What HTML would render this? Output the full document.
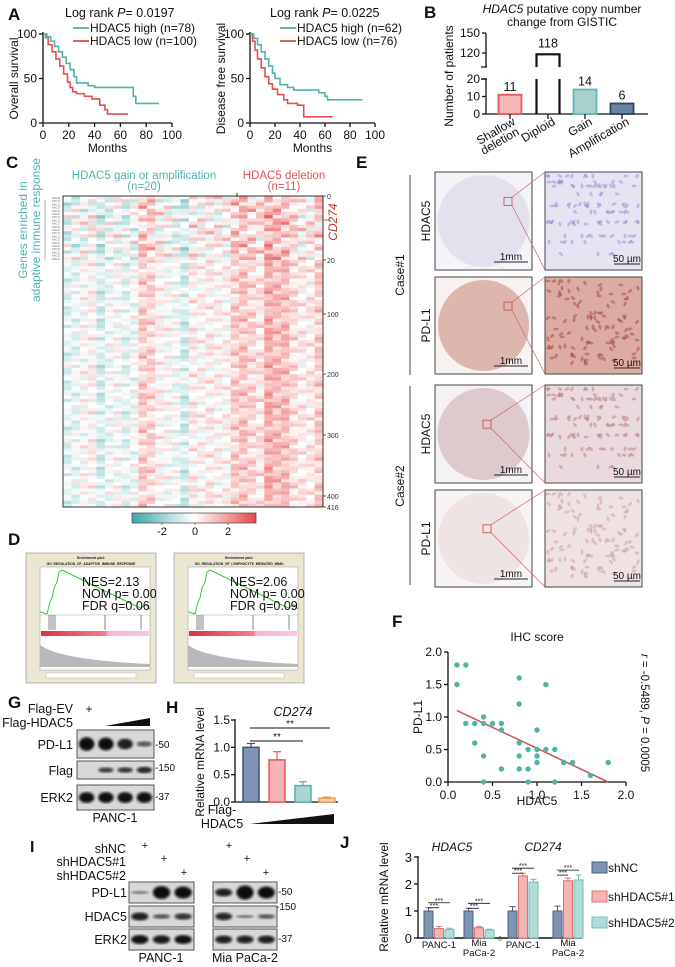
<!DOCTYPE html>
<html><head><meta charset="utf-8"><style>
html,body{margin:0;padding:0;background:#fff}
svg{display:block;font-family:"Liberation Sans",Arial,sans-serif}
</style></head><body>
<svg id="fig" width="675" height="967" viewBox="0 0 675 967" xmlns="http://www.w3.org/2000/svg">
<defs>
<filter id="blur1"><feGaussianBlur stdDeviation="1.2"/></filter>
<linearGradient id="cbar" x1="0" x2="1"><stop offset="0" stop-color="#3aa8a8"/><stop offset="0.5" stop-color="#ffffff"/><stop offset="1" stop-color="#e84848"/></linearGradient>
<linearGradient id="gseabar" x1="0" x2="1"><stop offset="0" stop-color="#e03040"/><stop offset="0.6" stop-color="#f08090"/><stop offset="0.62" stop-color="#f4b8d8"/><stop offset="1" stop-color="#f4c8e0"/></linearGradient>
</defs>
<g id="root"></g>
</svg>
<script>
// ---------- data ----------
const kmOsHigh=[[0,100],[3,97],[6,92],[9,86],[12,80],[15,74],[18,67],[21,60],[24,52],[26,45],[35,42],[40,40],[65,40],[70,30],[72,22],[90,22]];
const kmOsLow=[[0,100],[2,96],[4,88],[7,80],[10,72],[13,64],[16,55],[19,46],[21,40],[23,35],[26,33],[32,30],[38,27],[44,20],[48,15],[50,10],[66,10]];
const kmDfsHigh=[[0,100],[3,95],[6,88],[9,80],[12,72],[15,64],[18,56],[20,50],[24,43],[30,40],[35,37],[55,34],[60,30],[62,26],[90,26]];
const kmDfsLow=[[0,100],[2,92],[4,82],[6,72],[9,62],[12,52],[15,44],[18,38],[22,32],[27,26],[30,22],[38,20],[43,7],[66,7]];
const cnvCats=["Shallow deletion","Diploid","Gain","Amplification"];
const cnvVals=[11,118,14,6];
const heatColMeans=[-0.3,-0.2,0,0.1,-0.5,-0.1,0,-0.3,-0.1,0.6,0.5,0.1,0,-0.1,-0.5,0.2,0.1,0.2,0.1,0.1,0.6,0.7,0.5,0.3,1.0,0.8,0.8,0.4,0.2,0.2,0.6];
const heatRowPattern=[0.4,-0.6,0.1,0.9,-0.3,-1.1,0.6,0.2,-0.8,1.2,-0.1,0.3,-0.5,0.8,-1.3,0.0,0.5,-0.2,1.4,-0.7,0.2,-0.4,0.7,-0.9];
const ihcX=[0.1,0.2,0.1,0.8,1.1,0.8,0.4,0.2,0.3,0.4,0.5,0.6,0.6,1.0,0.3,0.8,0.9,1.0,1.1,1.2,0.4,0.8,1.0,1.0,1.3,1.4,1.8,0.6,0.8,0.9,1.6,0.4,0.9,1.2];
const ihcY=[1.8,1.8,1.5,1.6,1.5,1.2,1.0,0.9,0.9,0.9,0.9,0.9,0.8,0.8,0.6,0.6,0.5,0.5,0.5,0.5,0.4,0.4,0.4,0.3,0.3,0.3,0.3,0.2,0.2,0.2,0.1,0,0,0];
const fitLine=[[0.1,1.1],[1.8,0]];
const hVals=[1.0,0.77,0.3,0.07];
const hErr=[0.07,0.15,0.07,0.02];
const jGroups=["PANC-1","Mia PaCa-2","PANC-1","Mia PaCa-2"];
const jSeries=["shNC","shHDAC5#1","shHDAC5#2"];
const jNC=[1,1,1,1];
const jSh1=[0.35,0.38,2.3,2.12];
const jSh2=[0.32,0.3,2.07,2.15];
const jErrNC=[0.12,0.1,0.16,0.18];
const jErrSh1=[0.08,0.04,0.1,0.1];
const jErrSh2=[0.04,0.03,0.1,0.18];

// ---------- helpers ----------
const NS="http://www.w3.org/2000/svg";
const root=document.getElementById('root');
function el(tag,attrs,parent,text){const e=document.createElementNS(NS,tag);for(const k in attrs)e.setAttribute(k,attrs[k]);if(text!==undefined)e.textContent=text;(parent||root).appendChild(e);return e;}
function grp(name,parent){const g=el('g',{},parent);return g;}
function txt(p,x,y,s,size,o){o=o||{};const t=el('text',Object.assign({x:x,y:y,'font-size':size,fill:o.fill||'#111','text-anchor':o.anchor||'start'},o.extra||{}),p,s);if(o.rot!==undefined)t.setAttribute('transform','rotate('+o.rot+' '+x+' '+y+')');return t;}
function line(p,x1,y1,x2,y2,c,w){return el('line',{x1:x1,y1:y1,x2:x2,y2:y2,stroke:c||'#111','stroke-width':w||1.3},p);}
const TEAL='#4fb3ad',RED='#e05252';

// ---------- panel letters ----------
[['A',8,20],['B',424,18],['C',6,168],['D',8,545],['E',356,168],['F',392,627],['G',8,708],['H',166,713],['I',30,852],['J',340,848]].forEach(a=>{txt(root,a[1],a[2],a[0],a[0]==='I'?16:17,{extra:{'font-weight':'bold'},name:'panel-letter-'+a[0].toLowerCase()});});

// ---------- A: KM ----------
function km(name,x0,x100,y0,y100,high,low,ylab,p,nh,nl,legX,titleX){
  const g=grp(name);
  const sx=t=>x0+(x100-x0)*t/100, sy=v=>y0-(y0-y100)*v/100;
  line(g,x0,y100-2,x0,y0);line(g,x0,y0,x100,y0);
  [0,50,100].forEach(v=>{line(g,x0-4,sy(v),x0,sy(v));txt(g,x0-6,sy(v)+4,String(v),12,{anchor:'end',name:'y-tick'});});
  [0,20,40,60,80,100].forEach(v=>{line(g,sx(v),y0,sx(v),y0+4);txt(g,sx(v),y0+16,String(v),12,{anchor:'middle',name:'x-tick'});});
  txt(g,(x0+x100)/2,y0+29,'Months',12,{anchor:'middle',name:'x-axis-title'});
  txt(g,x0-25,(y0+y100)/2,ylab,12,{anchor:'middle',rot:-90,name:'y-axis-title'});
  function step(d,c,n){let s='M'+sx(d[0][0])+','+sy(d[0][1]);for(let i=1;i<d.length;i++){s+=' H'+sx(d[i][0])+' V'+sy(d[i][1]);}const pth=el('path',{d:s,fill:'none',stroke:c,'stroke-width':1.6},g);}
  step(low,RED,'curve-hdac5-low');step(high,TEAL,'curve-hdac5-high');
  const t=txt(g,titleX,17,'',12.5,{name:'log-rank-p'});t.innerHTML='Log rank <tspan font-style="italic">P</tspan>= '+p;
  line(g,legX,28,legX+16,28,TEAL,1.8);txt(g,legX+17,32,'HDAC5 high '+nh,12,{name:'legend-high'});
  line(g,legX,41,legX+16,41,RED,1.8);txt(g,legX+17,45,'HDAC5 low  '+nl,12,{name:'legend-low'});
}
km('km-overall-survival',43,172,123,34,kmOsHigh,kmOsLow,'Overall survival','0.0197','(n=78)','(n=100)',73,65);
km('km-disease-free-survival',250,375,123,34,kmDfsHigh,kmDfsLow,'Disease free survival','0.0225','(n=62)','(n=76)',280,270);

// ---------- B: CNV bars ----------
(function(){
  const g=grp('cnv-bar-chart');
  const ax=486, yb=114;
  const syLow=v=>yb-(yb-79)*v/20, syHigh=v=>53-(53-33)*(v-120)/30;
  line(g,ax,yb,ax,79);line(g,ax,67,ax,33);line(g,ax-5,67,ax+1,67);line(g,ax-5,79,ax+1,79);
  [[0,syLow(0)],[10,syLow(10)],[20,syLow(20)],[120,syHigh(120)],[150,syHigh(150)]].forEach(t=>{line(g,ax-4,t[1],ax,t[1]);txt(g,ax-6,t[1]+4,String(t[0]),12,{anchor:'end',name:'y-tick'});});
  line(g,ax,yb,648,yb);
  txt(g,453,76,'Number of patients',12,{anchor:'middle',rot:-90,name:'y-axis-title'});
  const t1=txt(g,562,13,'',12,{anchor:'middle',name:'chart-title'});t1.innerHTML='<tspan font-style="italic">HDAC5</tspan> putative copy number';
  txt(g,562,26,'change from GISTIC',12,{anchor:'middle',name:'chart-title'});
  const fills=['#f4b8b8','#fff','#a9d0cf','#6a82a4'],strokes=['#e05a5a','#111','#5fb8b2','#2f4466'];
  const cx=[510,548,585,622];
  cnvVals.forEach((v,i)=>{
    const w=23,x=cx[i]-w/2;
    if(v>20){
      line(g,x,yb,x,syLow(20),'#111',2.2);line(g,x+w,yb,x+w,syLow(20),'#111',2.2);
      const p=el('path',{d:`M${x},67 V${syHigh(v)} H${x+w} V67`,fill:'none',stroke:'#111','stroke-width':2.2},g);
      txt(g,cx[i],syHigh(v)-7,String(v),12.5,{anchor:'middle',name:'bar-value'});
    } else {
      const r=el('rect',{x:x,y:syLow(v),width:w,height:yb-syLow(v),fill:fills[i],stroke:strokes[i],'stroke-width':1.8},g);
      txt(g,cx[i],syLow(v)-4,String(v),12.5,{anchor:'middle',name:'bar-value'});
    }
    line(g,cx[i],yb,cx[i],yb+5);
  });
  txt(g,516,124,'Shallow',12,{anchor:'end',rot:-30,name:'x-label'});txt(g,520,134,'deletion',12,{anchor:'end',rot:-30,name:'x-label'});
  txt(g,556,124,'Diploid',12,{anchor:'end',rot:-30,name:'x-label'});
  txt(g,593,124,'Gain',12,{anchor:'end',rot:-30,name:'x-label'});
  txt(g,630,124,'Amplification',12,{anchor:'end',rot:-30,name:'x-label'});
})();

// ---------- C: heatmap ----------
(function(){
  const g=grp('heatmap');
  const x0=63,x1=323,y0=196,ySplit=260,y1=507;
  const nCols=heatColMeans.length, cw=(x1-x0)/nCols;
  const topRows=20, botRows=80;
  function col(v){v=Math.max(-3,Math.min(3,v));const t=Math.abs(v)/3;const c=v<0?[58,168,168]:[232,72,72];const m=[255,255,255];return 'rgb('+c.map((ch,i)=>Math.round(m[i]+(ch-m[i])*t)).join(',')+')';}
  const nRows=topRows+botRows;
  for(let r=0;r<nRows;r++){
    const yy=r<topRows?y0+(ySplit-y0)*r/topRows:ySplit+(y1-ySplit)*(r-topRows)/botRows;
    const hh=r<topRows?(ySplit-y0)/topRows:(y1-ySplit)/botRows;
    for(let c=0;c<nCols;c++){
      const v=heatColMeans[c]*1.3+heatRowPattern[(r*7+c*5)%heatRowPattern.length]*(r<topRows?0.9:0.55);
      el('rect',{x:(x0+c*cw).toFixed(2),y:yy.toFixed(2),width:(cw+0.3).toFixed(2),height:(hh+0.3).toFixed(2),fill:col(v)},g);
    }
  }
  el('rect',{x:x0,y:y0,width:x1-x0,height:y1-y0,fill:'none',stroke:'#333','stroke-width':1},g);
  line(g,237,193,237,197,'#333',1);
  [[0,y0],[20,ySplit],[100,314],[200,374],[300,435],[400,496],[416,y1]].forEach(t=>{line(g,x1,t[1],x1+3,t[1],'#333',0.8);txt(g,x1+4,t[1]+3,String(t[0]),7,{fill:'#333',name:'row-tick'});});
  txt(g,144,179,'HDAC5 gain or amplification',11.5,{anchor:'middle',fill:TEAL,name:'group-label-gain'});
  txt(g,144,190,'(n=20)',11.5,{anchor:'middle',fill:TEAL,name:'group-label-gain-n'});
  txt(g,284,179,'HDAC5 deletion',11.5,{anchor:'middle',fill:RED,name:'group-label-deletion'});
  txt(g,284,190,'(n=11)',11.5,{anchor:'middle',fill:RED,name:'group-label-deletion-n'});
  txt(g,27,230,'Genes enriched in',12,{anchor:'middle',fill:TEAL,rot:-90,name:'row-group-label'});
  txt(g,40,230,'adaptive immune response',12,{anchor:'middle',fill:TEAL,rot:-90,name:'row-group-label'});
  line(g,45,200,45,260,'#999',0.8);
  for(let i=0;i<20;i++){txt(g,60,y0+3+i*3.2,'ABCD',3,{anchor:'end',fill:'#777',name:'gene-name'});}
  const cd=txt(g,337,222,'CD274',12,{anchor:'middle',fill:'#b33',rot:-90,name:'cd274-label'});cd.setAttribute('font-style','italic');
  line(g,324,220,330,220,'#b33',0.8);
  el('rect',{x:132,y:513,width:124,height:10,fill:'url(#cbar)',stroke:'#444','stroke-width':0.7},g);
  [[-2,162],[0,195],[2,228]].forEach(t=>{line(g,t[1],523,t[1],525,'#444',0.7);txt(g,t[1],535,String(t[0]),11,{anchor:'middle',name:'colorbar-tick'});});
})();

// ---------- D: GSEA ----------
function gsea(name,x,title1,title2,nes,fdr){
  const g=grp(name);
  el('rect',{x:x,y:553,width:130,height:130,fill:'#ebe6d2',stroke:'#999','stroke-width':0.7},g);
  txt(g,x+65,559,'Enrichment plot:',3.5,{anchor:'middle',extra:{'font-weight':'bold'},name:'gsea-title'});
  txt(g,x+65,565,title1,3.3,{anchor:'middle',extra:{'font-weight':'bold'},name:'gsea-title'});
  if(title2)txt(g,x+65,570,title2,3.3,{anchor:'middle',extra:{'font-weight':'bold'},name:'gsea-title'});
  const px=x+14,pw=110;
  el('rect',{x:px,y:567,width:pw,height:103,fill:'#fff',stroke:'#999','stroke-width':0.5},g);
  const es=el('path',{d:`M${px},612 L${px+7},614 L${px+10},602 L${px+12},598 L${px+14},588 L${px+17},582 L${px+19},572 L${px+22},570 L${px+pw-10},608 L${px+pw-4},605 L${px+pw},609`,fill:'none',stroke:'#3c3','stroke-width':1},g);
  
  line(g,px,615,px+pw,615,'#aaa',0.5);
  [9,11,13,15,65,101].forEach(o=>line(g,px+o,615,px+o,630,'#333',0.6));
  el('rect',{x:px+1,y:631,width:pw-2,height:5,fill:'url(#gseabar)'},g);
  el('path',{d:`M${px},645 Q${px+20},660 ${px+pw},664 L${px+pw},667 L${px},667 Z`,fill:'#b8b8b8'},g);
  el('rect',{x:x+20,y:673,width:90,height:5,fill:'#fff',stroke:'#aaa','stroke-width':0.4},g);
  txt(g,x+56,586,'NES='+nes,12.5,{name:'nes-value'});
  txt(g,x+56,598,'NOM p= 0.00',12.5,{name:'nom-p-value'});
  txt(g,x+56,610,'FDR q='+fdr,12.5,{name:'fdr-value'});
}
gsea('gsea-adaptive-immune',26,'GO_REGULATION_OF_ADAPTIVE_IMMUNE_RESPONSE','', '2.13','0.06');
gsea('gsea-lymphocyte-immunity',174,'GO_REGULATION_OF_LYMPHOCYTE_MEDIATED_IMMU','NITY','2.06','0.09');

// ---------- E: IHC ----------
(function(){
  const g=grp('ihc-images');
  const rows=[[172,270,'HDAC5','#f4f3f8','#e4e1ee','#e6e4f2','#8f8fd0',0.5],[277,374,'PD-L1','#f7f1ef','#ddb6ae','#dcaca4','#a9554c',0.6],[385,483,'HDAC5','#f5f2f5','#dec9cd','#eadadd','#c08895',0.6],[490,587,'PD-L1','#f8f4f4','#efe3e3','#efe2e2','#c99aa0',0.5]];
  const boxY=[0.3,0.3,0.4,0.4];
  rows.forEach((r,i)=>{
    const [ya,yb,lab,bg,circ,zbg,dots,op]=r;const h=yb-ya;
    el('rect',{x:435,y:ya,width:97,height:h,fill:bg,stroke:'#444','stroke-width':1},g);
    el('circle',{cx:483.5,cy:ya+h/2,r:h/2-3,fill:circ},g);
    el('rect',{x:545,y:ya,width:97,height:h,fill:zbg,stroke:'#444','stroke-width':1},g);
    for(let k=0;k<110;k++){const cx=548+((k*53+k*k*7)%91),cy=ya+4+((k*k*17+k*29)%(h-8));el('ellipse',{cx:cx,cy:cy,rx:2.6,ry:1.4,fill:dots,opacity:op,transform:`rotate(${(k*47)%180} ${cx} ${cy})`},g);}
    const sx=i<2?508:487,sy=ya+h*boxY[i];
    el('rect',{x:sx-4,y:sy-4,width:8,height:8,fill:'none',stroke:'#c55','stroke-width':0.9},g);
    line(g,sx+4,sy-4,545,ya,'#c66',0.7);line(g,sx+4,sy+4,545,yb,'#c66',0.7);
    line(g,494,yb-8,528,yb-8,'#222',1);txt(g,511,yb-10,'1mm',10,{anchor:'middle',name:'scale-bar-label'});
    line(g,614,yb-6,640,yb-6,'#222',1);txt(g,627,yb-8,'50 µm',10,{anchor:'middle',name:'scale-bar-label'});
    txt(g,430,(ya+yb)/2,lab,12,{anchor:'middle',rot:-90,name:'stain-label'});
  });
  line(g,410,175,410,375,'#444',1);line(g,410,386,410,585,'#444',1);
  txt(g,404,275,'Case#1',12,{anchor:'middle',rot:-90,name:'case-label'});
  txt(g,404,486,'Case#2',12,{anchor:'middle',rot:-90,name:'case-label'});
})();

// ---------- F: scatter ----------
(function(){
  const g=grp('ihc-scatter');
  const x0=448,x2=626,y0=782,y2=652;
  const sx=v=>x0+(x2-x0)*v/2, sy=v=>y0-(y0-y2)*v/2;
  line(g,x0,y0,x0,y2);line(g,x0,y0,x2,y0);
  [0,0.5,1,1.5,2].forEach(v=>{line(g,x0-4,sy(v),x0,sy(v));txt(g,x0-6,sy(v)+4,v.toFixed(1),12,{anchor:'end',name:'y-tick'});line(g,sx(v),y0,sx(v),y0+4);txt(g,sx(v),y0+17,v.toFixed(1),12,{anchor:'middle',name:'x-tick'});});
  txt(g,537,805,'HDAC5',12,{anchor:'middle',name:'x-axis-title'});
  txt(g,422,717,'PD-L1',12,{anchor:'middle',rot:-90,name:'y-axis-title'});
  txt(g,537,641,'IHC score',12,{anchor:'middle',name:'chart-title'});
  const r=txt(g,641,713,'',11.5,{anchor:'middle',rot:90,name:'correlation-label'});r.innerHTML='<tspan font-style="italic">r</tspan> = -0.5489, <tspan font-style="italic">P</tspan> = 0.0005';
  const fl=el('line',{x1:sx(fitLine[0][0]),y1:sy(fitLine[0][1]),x2:sx(fitLine[1][0]),y2:sy(fitLine[1][1]),stroke:'#d05a5a','stroke-width':1.6},g);
  
  ihcX.forEach((v,i)=>{const c=el('circle',{cx:sx(v),cy:sy(ihcY[i]),r:2.7,fill:'#4fb3a8'},g);});
})();

// ---------- blots ----------
function blot(g,x,y,w,h,intens,name){
  const bx=el('rect',{x:x,y:y,width:w,height:h,fill:'#d8d8d8',stroke:'#555','stroke-width':1},g);
  
  const n=intens.length,lw=w/n;
  intens.forEach((v,i)=>{if(v<=0)return;el('ellipse',{cx:x+lw*(i+0.5),cy:y+h/2,rx:lw*0.4,ry:Math.max(1.5,h*0.24*v),fill:'#111',opacity:Math.min(1,0.35+0.7*v),filter:'url(#blur1)'},g);});
}
(function(){
  const g=grp('western-blot-g');
  txt(g,73,713,'Flag-EV',12.5,{anchor:'end',name:'row-label'});txt(g,89,713,'+',12,{anchor:'middle',name:'plus'});
  txt(g,73,727,'Flag-HDAC5',12.5,{anchor:'end',name:'row-label'});
  el('polygon',{points:'105,726 150,718 150,726',fill:'#111'},g);
  blot(g,77,730,77,28,[1,0.95,0.8,0.4],'blot-pdl1');blot(g,77,761,77,18,[0,0.6,0.65,0.75],'blot-flag');blot(g,77,785,77,25,[0.9,0.9,0.9,0.9],'blot-erk2');
  txt(g,73,749,'PD-L1',12.5,{anchor:'end',name:'row-label'});txt(g,73,775,'Flag',12.5,{anchor:'end',name:'row-label'});txt(g,73,802,'ERK2',12.5,{anchor:'end',name:'row-label'});
  txt(g,155,748,'-50',10,{name:'marker'});txt(g,155,771,'-150',10,{name:'marker'});txt(g,155,800,'-37',10,{name:'marker'});
  txt(g,115,822,'PANC-1',12.5,{anchor:'middle',name:'cell-line-label'});
})();
(function(){
  const g=grp('western-blot-i');
  [['shNC',853],['shHDAC5#1',866],['shHDAC5#2',880]].forEach(r=>txt(g,126,r[1],r[0],12.5,{anchor:'end',name:'row-label'}));
  [[145,849],[164,862],[184,876],[229,849],[247,862],[266,876]].forEach(p=>txt(g,p[0],p[1],'+',11,{anchor:'middle',name:'plus'}));
  blot(g,129,882,65,21,[0.25,1.3,1.2],'blot-pdl1-panc');blot(g,129,906,65,21,[0.8,0.45,0.65],'blot-hdac5-panc');blot(g,129,929,65,21,[0.9,0.85,0.9],'blot-erk2-panc');
  blot(g,213,882,64,21,[0.8,1.4,1.2],'blot-pdl1-mia');blot(g,213,906,64,21,[0.75,0.3,0.45],'blot-hdac5-mia');blot(g,213,929,64,21,[0.8,0.8,0.8],'blot-erk2-mia');
  txt(g,127,897,'PD-L1',12.5,{anchor:'end',name:'row-label'});txt(g,127,921,'HDAC5',12.5,{anchor:'end',name:'row-label'});txt(g,127,944,'ERK2',12.5,{anchor:'end',name:'row-label'});
  txt(g,278,895,'-50',10,{name:'marker'});txt(g,276,910,'-150',10,{name:'marker'});txt(g,278,942,'-37',10,{name:'marker'});
  txt(g,161,962,'PANC-1',12.5,{anchor:'middle',name:'cell-line-label'});txt(g,245,962,'Mia PaCa-2',12.5,{anchor:'middle',name:'cell-line-label'});
})();

// ---------- H ----------
(function(){
  const g=grp('qpcr-cd274-overexpression');
  const ax=235,y0=802,sy=v=>y0-(y0-720)*v/1.5;
  line(g,ax,y0,ax,719);line(g,ax,y0,338,y0);
  [0,0.5,1,1.5].forEach(v=>{line(g,ax-4,sy(v),ax,sy(v));txt(g,ax-5,sy(v)+4,v.toFixed(1),12,{anchor:'end',name:'y-tick'});});
  txt(g,204,762,'Relative mRNA level',12,{anchor:'middle',rot:-90,name:'y-axis-title'});
  const ti=txt(g,293,716,'CD274',12.5,{anchor:'middle',name:'chart-title'});ti.setAttribute('font-style','italic');
  const fills=['#7f94b4','#f4b4b4','#a9d6d2','#f8d4a8'],strokes=['#3e5478','#e05a5a','#4fb3ad','#e8a050'];
  const cx=[251,277,303,327];
  hVals.forEach((v,i)=>{const r=el('rect',{x:cx[i]-8,y:sy(v),width:16,height:y0-sy(v),fill:fills[i],stroke:strokes[i],'stroke-width':1.5},g);
    line(g,cx[i],sy(v),cx[i],sy(v+hErr[i]),strokes[i],1.2);line(g,cx[i]-4,sy(v+hErr[i]),cx[i]+4,sy(v+hErr[i]),strokes[i],1.2);});
  line(g,250,728,330,728,'#111',1);txt(g,290,727,'**',10,{anchor:'middle',name:'significance'});
  line(g,250,741,303,741,'#111',1);txt(g,277,740,'**',10,{anchor:'middle',name:'significance'});
  txt(g,222,814,'Flag-',12.5,{anchor:'middle',name:'x-label'});txt(g,222,828,'HDAC5',12.5,{anchor:'middle',name:'x-label'});
  el('polygon',{points:'250,824 334,814 334,824',fill:'#111'},g);
})();

// ---------- J ----------
(function(){
  const g=grp('qpcr-knockdown');
  const ax=418,y0=938,sy=v=>y0-(y0-857)*v/3;
  line(g,ax,y0,ax,856);line(g,ax,y0,582,y0,'#111',1.6);
  [0,1,2,3].forEach(v=>{line(g,ax-4,sy(v),ax,sy(v));txt(g,ax-6,sy(v)+5,String(v),13,{anchor:'end',name:'y-tick'});});
  txt(g,388,897,'Relative mRNA level',12,{anchor:'middle',rot:-90,name:'y-axis-title'});
  const t1=txt(g,452,851,'HDAC5',12,{anchor:'middle',name:'gene-title'});t1.setAttribute('font-style','italic');
  const t2=txt(g,543,851,'CD274',12,{anchor:'middle',name:'gene-title'});t2.setAttribute('font-style','italic');
  const gc=[439,479,523,568];
  const fills=['#7f94b4','#f4b4b4','#b2dcd8'],strokes=['#4a5e80','#e07070','#70bdb6'];
  const vals=[jNC,jSh1,jSh2],errs=[jErrNC,jErrSh1,jErrSh2];
  gc.forEach((c,gi)=>{
    vals.forEach((arr,si)=>{const x=c+(si-1)*10.5;const v=arr[gi];
      const r=el('rect',{x:x-4.5,y:sy(v),width:9,height:y0-sy(v),fill:fills[si],stroke:strokes[si],'stroke-width':1},g);
      const e=errs[si][gi];line(g,x,sy(v),x,sy(v+e),strokes[si],1);line(g,x-3,sy(v+e),x+3,sy(v+e),strokes[si],1);});
    const top=sy(Math.max(jNC[gi]+jErrNC[gi],jSh1[gi]+jErrSh1[gi],jSh2[gi]+jErrSh2[gi]))-5;
    line(g,c-11,top,c+11,top,'#111',0.8);txt(g,c,top,'***',7,{anchor:'middle',name:'significance'});
    line(g,c-11,top+5,c,top+5,'#111',0.8);txt(g,c-5,top+5,'***',7,{anchor:'middle',name:'significance'});
    if(gi%2===0)txt(g,c,948,'PANC-1',9.5,{anchor:'middle',name:'x-label'});
    else{txt(g,c,946,'Mia',9.5,{anchor:'middle',name:'x-label'});txt(g,c,956,'PaCa-2',9.5,{anchor:'middle',name:'x-label'});}
  });
  txt(g,500,941,'0',7,{anchor:'middle',fill:'#555',name:'break-mark'});
  jSeries.forEach((s,i)=>{const y=[868,897,923][i];const r=el('rect',{x:592,y:y-6,width:15,height:11,fill:fills[i],stroke:strokes[i],'stroke-width':1},g);txt(g,608,y+4,s,12,{name:'legend-entry'});});
})();
</script>
</body></html>
